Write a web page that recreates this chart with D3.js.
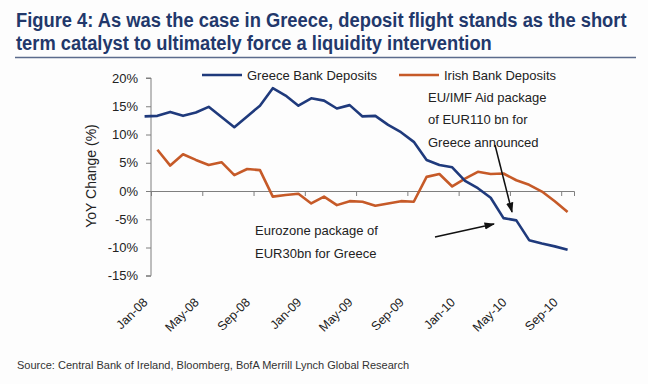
<!DOCTYPE html>
<html>
<head>
<meta charset="utf-8">
<script src="https://cdn.jsdelivr.net/npm/d3@7"></script>
<style>
  body { margin: 0; background: #fdfdfd; }
  svg { display: block; font-family: Arial, "Liberation Sans", sans-serif; }
</style>
</head>
<body>
<div class="canvas"></div>
<script>
// monthly categories (Irish series) and Greek series that starts a month earlier
const months = d3.timeMonth.range(new Date(2008, 0, 1), new Date(2010, 9, 1)).map(d3.timeFormat("%b-%y"));
const greeceMonths = ["Dec-07"].concat(months);
const tickLabels = ["Jan-08", "May-08", "Sep-08", "Jan-09", "May-09", "Sep-09", "Jan-10", "May-10", "Sep-10"];
const yTicks = [-15, -10, -5, 0, 5, 10, 15, 20];

const greece = [13.2, 13.3, 14.0, 13.3, 13.9, 14.9, 13.1, 11.3, 13.2, 15.1, 18.2, 16.9,
  15.1, 16.4, 16.0, 14.6, 15.2, 13.2, 13.3, 11.7, 10.4, 8.7, 5.5, 4.6, 4.2, 1.8,
  0.5, -1.2, -4.8, -5.2, -8.7, -9.3, -9.8, -10.4];
const irish = [7.3, 4.5, 6.5, 5.5, 4.6, 5.1, 2.8, 3.9, 3.7, -1.0, -0.7, -0.5, -2.2,
  -1.0, -2.5, -1.8, -1.9, -2.6, -2.2, -1.8, -1.9, 2.5, 3.0, 0.8, 2.2, 3.4, 3.0,
  3.1, 1.9, 1.1, -0.1, -1.8, -3.7];

const navy = "#1f3a7c";
const rust = "#c65a28";
const titleColor = "#22386b";

const svg = d3.select(".canvas")
  .append("svg")
  .attr("width", 648)
  .attr("height", 384);

svg.append("rect").attr("width", 648).attr("height", 384).attr("fill", "#fdfdfd");

// title, squeezed horizontally to look like a narrow face
const title = svg.append("g")
  .attr("fill", titleColor)
  .attr("font-weight", "bold")
  .attr("font-size", 21);
[["Figure 4: As was the case in Greece, deposit flight stands as the short", 27, 611],
 ["term catalyst to ultimately force a liquidity intervention", 50, 476]].forEach(([t, ty, w]) => {
  const txt = title.append("text").text(t);
  const natural = txt.node().getComputedTextLength();
  txt.attr("transform", `translate(16,${ty}) scale(${w / natural},1)`);
});
svg.append("line").attr("x1", 15).attr("x2", 636).attr("y1", 57.5).attr("y2", 57.5)
  .attr("stroke", "#5b6b8c").attr("stroke-width", 1.5);

// scales
const x = d3.scaleLinear().domain([-0.5, months.length - 0.5]).range([151, 574]);
const y = d3.scaleLinear().domain([-15, 20]).range([275.75, 78]);
const idx = m => months.indexOf(m);

// y axis
const yAxis = svg.append("g")
  .attr("transform", "translate(151,0)")
  .call(d3.axisLeft(y).tickValues(yTicks).tickFormat(d => d + "%").tickSize(5).tickPadding(8));
yAxis.selectAll("path, line").attr("stroke", "#7f7f7f");
yAxis.selectAll("text").attr("font-size", 13).attr("fill", "#222").attr("font-family", "Arial, 'Liberation Sans', sans-serif");
yAxis.select(".domain").attr("d", `M-5,${y(20)}H0V${y(-15)}H-5`);

svg.append("text")
  .attr("transform", "translate(96,176) rotate(-90)")
  .attr("text-anchor", "middle")
  .attr("font-size", 14)
  .attr("fill", "#222")
  .text("YoY Change (%)");

// x axis along the zero line, ticks between category groups
const boundaries = d3.range(0, 9).map(j => -0.5 + 4 * j);
const xAxis = svg.append("g")
  .attr("transform", `translate(0,${y(0)})`)
  .call(d3.axisBottom(x).tickValues(boundaries).tickFormat("").tickSizeOuter(0).tickSize(5));
xAxis.selectAll("path, line").attr("stroke", "#7f7f7f");

svg.append("g")
  .selectAll("text")
  .data(tickLabels)
  .join("text")
  .attr("transform", d => `translate(${x(idx(d)) - 9},303) rotate(-45)`)
  .attr("text-anchor", "end")
  .attr("font-size", 12.5)
  .attr("fill", "#222")
  .text(d => d);

// lines
const line = d3.line().x(d => x(d.i)).y(d => y(d.v));

svg.append("path")
  .datum(irish.map((v, k) => ({ i: idx(months[k]), v })))
  .attr("fill", "none")
  .attr("stroke", rust)
  .attr("stroke-width", 2.6)
  .attr("stroke-linejoin", "round")
  .attr("d", line);

svg.append("path")
  .datum(greece.map((v, k) => ({ i: k === 0 ? -1 : idx(greeceMonths[k]), v })))
  .attr("fill", "none")
  .attr("stroke", navy)
  .attr("stroke-width", 2.6)
  .attr("stroke-linejoin", "round")
  .attr("d", line);

// legend
const legend = svg.append("g").attr("font-size", 13).attr("fill", "#222");
[["Greece Bank Deposits", navy, 202], ["Irish Bank Deposits", rust, 399]].forEach(([name, col, lx]) => {
  legend.append("line").attr("x1", lx).attr("x2", lx + 40).attr("y1", 75).attr("y2", 75)
    .attr("stroke", col).attr("stroke-width", 2.6);
  legend.append("text").attr("x", lx + 45).attr("y", 79.5).text(name);
});

// annotations
svg.append("defs").append("marker")
  .attr("id", "arrow")
  .attr("viewBox", "0 0 10 10")
  .attr("refX", 9).attr("refY", 5)
  .attr("markerWidth", 7).attr("markerHeight", 7)
  .attr("orient", "auto")
  .append("path").attr("d", "M0,1.5L10,5L0,8.5Z").attr("fill", "#111");

const notes = svg.append("g").attr("font-size", 13).attr("fill", "#222");
["EU/IMF Aid package", "of EUR110 bn for", "Greece announced"].forEach((t, k) => {
  notes.append("text").attr("x", 428).attr("y", 101.5 + k * 22.5).text(t);
});
["Eurozone package of", "EUR30bn for Greece"].forEach((t, k) => {
  notes.append("text").attr("x", 255).attr("y", 234.5 + k * 23).text(t);
});

svg.append("line").attr("x1", 495).attr("y1", 145).attr("x2", 512).attr("y2", 212)
  .attr("stroke", "#111").attr("stroke-width", 1.5).attr("marker-end", "url(#arrow)");
svg.append("line").attr("x1", 435).attr("y1", 237).attr("x2", 494).attr("y2", 224)
  .attr("stroke", "#111").attr("stroke-width", 1.5).attr("marker-end", "url(#arrow)");

// source
svg.append("text")
  .attr("x", 17).attr("y", 369)
  .attr("font-size", 11)
  .attr("fill", "#333")
  .text("Source: Central Bank of Ireland, Bloomberg, BofA Merrill Lynch Global Research");
</script>
</body>
</html>
